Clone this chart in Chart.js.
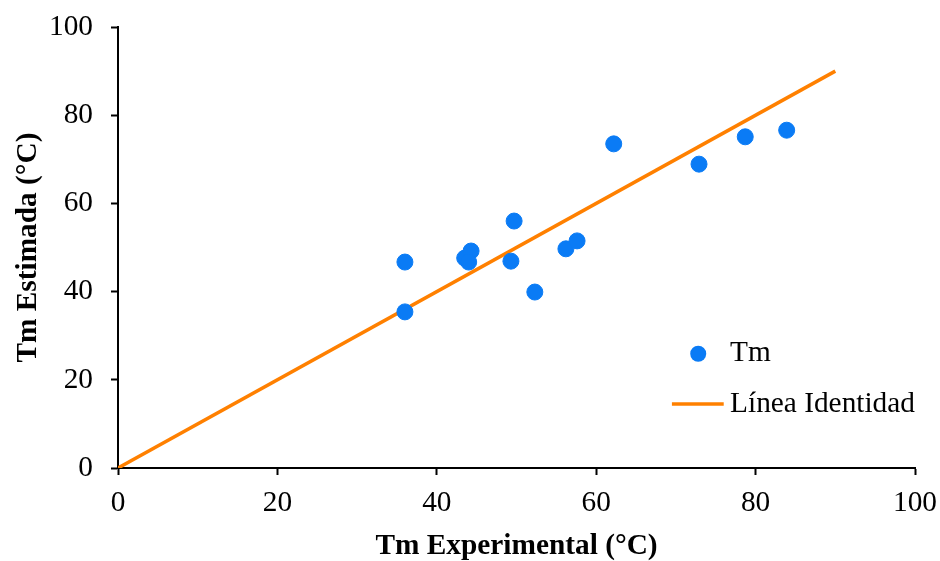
<!DOCTYPE html>
<html>
<head>
<meta charset="utf-8">
<script src="https://cdn.jsdelivr.net/npm/chart.js@4/dist/chart.umd.min.js"></script>
<style>
  html, body { margin: 0; padding: 0; background: #fff; }
  #wrap { width: 940px; height: 561px; }
</style>
</head>
<body>
<div id="wrap"><canvas id="c" width="940" height="561"></canvas></div>
<script>
// Measured vs. estimated melting temperature (°C)
const tmExperimental = [36.0, 36.0, 43.5, 44.3, 44.0, 49.7, 49.3, 52.3, 56.2, 57.6, 62.2, 72.9, 78.7, 83.9];
const tmEstimada     = [46.7, 35.4, 47.6, 49.2, 46.7, 56.0, 46.9, 39.9, 49.7, 51.5, 73.5, 68.9, 75.1, 76.6];
const identityX = [0, 90];
const identityY = [0, 90];
const axisTicks = [0, 20, 40, 60, 80, 100];

const seriesLabels = ['Tm', 'Línea Identidad'];
const xTitle = 'Tm Experimental (°C)';
const yTitle = 'Tm Estimada (°C)';

const BLUE = '#0A7BF5';
const ORANGE = '#FF8000';
const FONT = "'Liberation Serif', 'Times New Roman', serif";
const FONT_SIZE = 29.33;

const points = tmExperimental.map((x, i) => ({ x, y: tmEstimada[i] }));
const identity = identityX.map((x, i) => ({ x, y: identityY[i] }));

// Legend drawn inside the plot, lower right
const insideLegend = {
  id: 'insideLegend',
  afterDraw(chart) {
    const { ctx, chartArea } = chart;
    const w = chartArea.right - chartArea.left;
    const h = chartArea.bottom - chartArea.top;
    const textX = chartArea.left + w * 0.768;
    const y1 = chartArea.top + h * 0.741;
    const y2 = chartArea.top + h * 0.855;
    ctx.save();
    ctx.fillStyle = BLUE;
    ctx.beginPath();
    ctx.arc(chartArea.left + w * 0.728, y1, 8, 0, Math.PI * 2);
    ctx.fill();
    ctx.strokeStyle = ORANGE;
    ctx.lineWidth = 3.5;
    ctx.beginPath();
    ctx.moveTo(chartArea.left + w * 0.695, y2);
    ctx.lineTo(chartArea.left + w * 0.760, y2);
    ctx.stroke();
    ctx.fillStyle = '#000';
    ctx.font = FONT_SIZE + 'px ' + FONT;
    ctx.textBaseline = 'middle';
    ctx.textAlign = 'left';
    ctx.fillText(seriesLabels[0], textX, y1);
    ctx.fillText(seriesLabels[1], textX, y2);
    ctx.restore();
  }
};

new Chart(document.getElementById('c'), {
  type: 'scatter',
  data: {
    datasets: [
      {
        label: seriesLabels[0],
        data: points,
        backgroundColor: BLUE,
        borderColor: BLUE,
        pointRadius: 8,
        pointHoverRadius: 8,
        order: 1
      },
      {
        type: 'line',
        label: seriesLabels[1],
        data: identity,
        borderColor: ORANGE,
        borderWidth: 3.5,
        pointRadius: 0,
        fill: false,
        order: 2
      }
    ]
  },
  options: {
    responsive: false,
    animation: false,
    layout: { padding: { top: 27, right: 25, left: 0, bottom: 0 } },
    plugins: {
      legend: { display: false },
      tooltip: { enabled: false }
    },
    scales: {
      x: {
        type: 'linear',
        min: 0, max: 100,
        afterBuildTicks(s) { s.ticks = axisTicks.map(v => ({ value: v })); },
        afterFit(s) { s.height = 93; s.paddingLeft = 0; s.paddingRight = 0; },
        grid: { drawOnChartArea: false, drawTicks: true, tickLength: 7, tickColor: '#000', tickWidth: 2 },
        border: { color: '#000', width: 2 },
        ticks: { color: '#000', font: { family: FONT, size: FONT_SIZE }, padding: 11, maxRotation: 0 },
        title: { display: true, text: xTitle, color: '#000', font: { family: FONT, size: FONT_SIZE, weight: 'bold', lineHeight: 1.0 }, padding: { top: 0, bottom: 0 } }
      },
      y: {
        type: 'linear',
        min: 0, max: 100,
        afterBuildTicks(s) { s.ticks = axisTicks.map(v => ({ value: v })); },
        afterFit(s) { s.width = 118; s.paddingTop = 0; s.paddingBottom = 0; },
        grid: { drawOnChartArea: false, drawTicks: true, tickLength: 7, tickColor: '#000', tickWidth: 2 },
        border: { color: '#000', width: 2 },
        ticks: { color: '#000', font: { family: FONT, size: FONT_SIZE }, padding: 18 },
        title: { display: true, text: yTitle, color: '#000', font: { family: FONT, size: FONT_SIZE, weight: 'bold' }, padding: { top: 11, bottom: 0 } }
      }
    }
  },
  plugins: [insideLegend]
});
</script>
</body>
</html>
